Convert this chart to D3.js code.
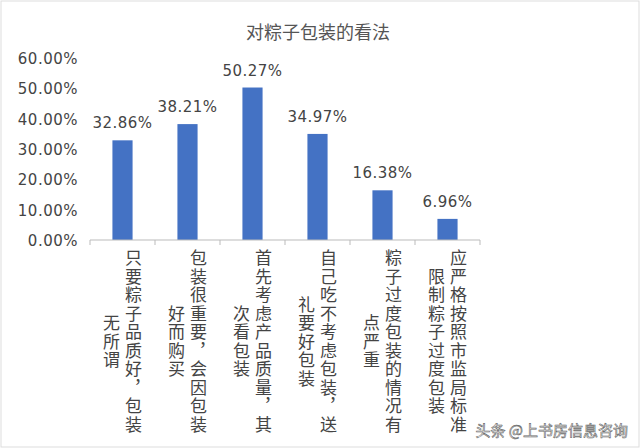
<!DOCTYPE html>
<html><head><meta charset="utf-8">
<script src="https://cdn.jsdelivr.net/npm/d3@7"></script>
<style>body{margin:0;background:#fff}svg{font-family:"Noto Sans CJK SC","DejaVu Sans",sans-serif}</style>
</head><body><svg width="640" height="448"></svg>
<script>
const categories = [
    ["只要粽子品质好，包装", "无所谓"],
    ["包装很重要，会因包装", "好而购买"],
    ["首先考虑产品质量，其", "次看包装"],
    ["自己吃不考虑包装，送", "礼要好包装"],
    ["粽子过度包装的情况有", "点严重"],
    ["应严格按照市监局标准", "限制粽子过度包装"]
];
const values = [32.86, 38.21, 50.27, 34.97, 16.38, 6.96];
const yTicks = [0, 10, 20, 30, 40, 50, 60];

const svg = d3.select("svg");
svg.append("rect").attr("x", 1).attr("y", 1).attr("width", 638).attr("height", 446)
    .attr("fill", "#fff").attr("stroke", "#ddd");

const x = d3.scaleBand().domain(d3.range(values.length)).range([90, 480]).paddingInner(0.69).paddingOuter(0.345);
const y = d3.scaleLinear().domain([0, 60]).range([240, 58]);

svg.append("text").attr("x", 318).attr("y", 39).attr("text-anchor", "middle")
    .attr("font-size", 18).attr("fill", "#555").text("对粽子包装的看法");

svg.selectAll(".yl").data(yTicks).join("text")
    .attr("x", 78).attr("y", d => y(d) + 6).attr("text-anchor", "end")
    .attr("font-size", 15).attr("fill", "#444").attr("font-family", "DejaVu Sans")
    .style("letter-spacing", "0.5px").text(d => d.toFixed(2) + "%");

svg.selectAll(".bar").data(values).join("rect")
    .attr("x", (d, i) => x(i)).attr("width", x.bandwidth())
    .attr("y", d => y(d)).attr("height", d => y(0) - y(d)).attr("fill", "#4472c4");

svg.selectAll(".vl").data(values).join("text")
    .attr("x", (d, i) => x(i) + x.bandwidth() / 2).attr("y", d => y(d) - 12)
    .attr("text-anchor", "middle").attr("font-size", 15).attr("fill", "#444")
    .attr("font-family", "DejaVu Sans").style("letter-spacing", "0.5px").text(d => d.toFixed(2) + "%");

svg.append("line").attr("x1", 90).attr("x2", 480).attr("y1", y(0)).attr("y2", y(0)).attr("stroke", "#bbb");
const step = x.step();
svg.selectAll(".tk").data(d3.range(values.length + 1)).join("line")
    .attr("x1", i => 90 + i * step).attr("x2", i => 90 + i * step)
    .attr("y1", y(0)).attr("y2", y(0) + 5).attr("stroke", "#bbb");

categories.forEach((lines, i) => {
    const cx = x(i) + x.bandwidth() / 2;
    lines.forEach((t, j) => {
        svg.append("text")
            .attr("x", cx + 11 - j * 22).attr("y", 342)
            .style("writing-mode", "vertical-rl").style("letter-spacing", "1.5px")
            .attr("text-anchor", "middle")
            .attr("font-size", 17).attr("fill", "#444").text(t);
    });
});

svg.append("text").attr("x", 628).attr("y", 436).attr("text-anchor", "end")
    .attr("font-size", 15).attr("fill", "#fff").attr("stroke", "#666").attr("stroke-width", 0.6)
    .text("头条 @上书房信息咨询");
</script></body></html>
